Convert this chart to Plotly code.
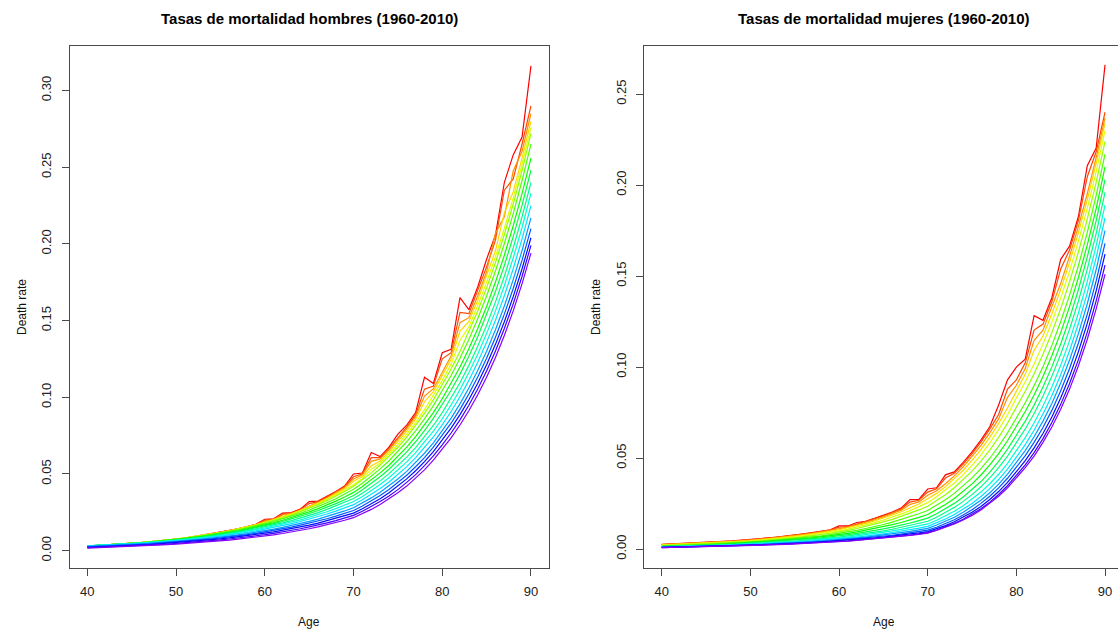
import colorsys
import plotly.graph_objects as go

# ---------------- data (death rates per 10,000) ----------------
AGES = [40, 41, 42, 43, 44, 45, 46, 47, 48, 49, 50, 51, 52, 53, 54, 55, 56, 57, 58, 59,
        60, 61, 62, 63, 64, 65, 66, 67, 68, 69, 70, 71, 72, 73, 74, 75, 76, 77, 78, 79,
        80, 81, 82, 83, 84, 85, 86, 87, 88, 89, 90]

YEARS = [1960, 1963, 1966, 1969, 1972, 1975, 1978, 1981, 1984, 1987, 1990, 1993,
         1996, 1999, 2002, 2005, 2008]

RATE_UNIT = 10000

# Males
M1960 = [30, 33, 36, 40, 43, 47, 52, 57, 62, 68, 75, 82, 92, 99, 109, 119, 131, 143, 157, 172, 205,
         208, 245, 248, 271, 320, 323, 353, 386, 421, 500, 506, 640, 613, 675, 760, 818, 900, 1130, 1090, 1290,
         1313, 1650, 1571, 1719, 1900, 2058, 2400, 2580, 2696, 3160]
M1963 = [30, 33, 36, 40, 43, 47, 52, 57, 62, 68, 75, 82, 90, 99, 108, 119, 130, 143, 156, 171, 199,
         205, 236, 245, 268, 307, 320, 349, 382, 417, 482, 501, 606, 606, 666, 733, 806, 887, 1053, 1073, 1251,
         1291, 1553, 1545, 1691, 1850, 2024, 2350, 2423, 2651, 2900]
M1966 = [30, 33, 36, 40, 43, 47, 52, 57, 62, 68, 75, 82, 90, 98, 108, 118, 129, 142, 155, 170, 193,
         203, 233, 243, 265, 289, 316, 345, 377, 412, 468, 495, 582, 598, 657, 723, 795, 874, 1008, 1056, 1160,
         1269, 1486, 1519, 1662, 1818, 2069, 2176, 2475, 2604, 2850]
M1969 = [30, 33, 36, 40, 44, 48, 52, 58, 63, 69, 76, 83, 91, 99, 109, 119, 130, 142, 155, 169, 185,
         202, 220, 240, 262, 285, 311, 339, 370, 404, 453, 484, 553, 585, 644, 708, 779, 857, 971, 1037, 1140,
         1247, 1432, 1493, 1633, 1787, 1955, 2202, 2339, 2559, 2800]
M1972 = [30, 33, 36, 40, 44, 48, 52, 58, 63, 69, 76, 83, 91, 99, 108, 118, 129, 141, 154, 168, 183,
         199, 217, 237, 258, 281, 306, 333, 363, 395, 430, 473, 530, 572, 629, 691, 760, 835, 919, 1010, 1110,
         1216, 1372, 1459, 1598, 1750, 1917, 2100, 2300, 2519, 2760]
M1975 = [30, 33, 36, 40, 43, 47, 52, 57, 62, 68, 75, 82, 89, 98, 107, 116, 127, 138, 151, 165, 180,
         196, 213, 232, 253, 275, 299, 326, 355, 386, 420, 462, 507, 558, 613, 674, 740, 814, 895, 983, 1080,
         1184, 1299, 1425, 1562, 1713, 1879, 2061, 2260, 2479, 2720]
M1978 = [30, 33, 36, 39, 43, 47, 52, 57, 62, 68, 74, 81, 88, 96, 104, 114, 124, 135, 147, 161, 175,
         190, 207, 224, 244, 265, 287, 312, 339, 368, 400, 440, 484, 533, 586, 645, 710, 781, 859, 946, 1040,
         1142, 1254, 1377, 1512, 1660, 1823, 2001, 2197, 2413, 2650]
M1981 = [30, 33, 36, 39, 43, 47, 51, 55, 60, 66, 72, 78, 85, 93, 101, 110, 120, 130, 142, 154, 168,
         182, 198, 215, 233, 253, 274, 297, 323, 350, 380, 418, 460, 507, 557, 613, 675, 743, 818, 900, 990,
         1089, 1197, 1317, 1448, 1592, 1751, 1926, 2118, 2329, 2560]
M1984 = [30, 33, 36, 39, 42, 46, 50, 54, 59, 64, 70, 76, 83, 90, 98, 107, 116, 126, 137, 149, 162,
         176, 190, 206, 223, 242, 262, 283, 307, 332, 360, 397, 437, 482, 531, 585, 644, 710, 782, 862, 950,
         1046, 1151, 1267, 1394, 1535, 1689, 1859, 2047, 2253, 2480]
M1987 = [31, 34, 36, 39, 42, 46, 50, 54, 58, 63, 68, 74, 80, 87, 95, 103, 111, 121, 131, 143, 155,
         168, 181, 196, 212, 230, 248, 269, 291, 314, 340, 375, 413, 455, 502, 553, 610, 672, 741, 816, 900,
         993, 1095, 1208, 1333, 1470, 1622, 1789, 1973, 2177, 2400]
M1990 = [32, 34, 37, 40, 43, 46, 49, 53, 57, 61, 66, 72, 78, 84, 91, 99, 107, 116, 126, 137, 148,
         160, 173, 187, 201, 218, 235, 254, 274, 296, 320, 353, 390, 431, 475, 525, 579, 639, 706, 779, 860,
         950, 1050, 1160, 1281, 1415, 1563, 1727, 1908, 2107, 2330]
M1993 = [31, 33, 36, 38, 41, 44, 47, 51, 55, 59, 63, 68, 74, 80, 87, 94, 102, 110, 119, 129, 140,
         151, 163, 176, 190, 205, 221, 239, 258, 278, 300, 332, 367, 406, 448, 496, 548, 606, 670, 741, 820,
         907, 1003, 1110, 1228, 1358, 1502, 1662, 1838, 2033, 2250]
M1996 = [28, 30, 33, 35, 38, 41, 44, 48, 52, 56, 60, 65, 70, 76, 82, 88, 95, 103, 111, 120, 130,
         140, 152, 164, 177, 191, 206, 223, 240, 259, 280, 310, 344, 381, 422, 467, 517, 573, 635, 703, 780,
         864, 957, 1060, 1174, 1300, 1440, 1595, 1767, 1957, 2170]
M1999 = [25, 27, 29, 32, 35, 37, 41, 44, 48, 52, 56, 61, 65, 71, 77, 83, 89, 97, 104, 113, 122,
         132, 142, 153, 166, 179, 193, 208, 225, 243, 262, 291, 323, 359, 399, 443, 492, 547, 607, 675, 750,
         831, 921, 1021, 1132, 1255, 1391, 1542, 1709, 1894, 2100]
M2002 = [22, 24, 26, 29, 31, 34, 37, 40, 44, 48, 52, 56, 61, 66, 71, 77, 83, 90, 97, 105, 114,
         123, 133, 143, 155, 167, 180, 195, 210, 227, 245, 273, 304, 339, 377, 420, 468, 521, 580, 646, 720,
         799, 887, 984, 1092, 1212, 1345, 1492, 1656, 1838, 2040]
M2005 = [19, 21, 23, 25, 27, 30, 33, 36, 39, 43, 47, 51, 55, 60, 65, 70, 76, 82, 89, 96, 104,
         113, 122, 132, 143, 155, 167, 181, 196, 212, 230, 257, 287, 320, 357, 398, 445, 496, 554, 618, 690,
         767, 853, 948, 1054, 1171, 1302, 1448, 1609, 1789, 1990]
M2008 = [17, 19, 21, 23, 25, 27, 30, 33, 36, 39, 43, 47, 50, 55, 59, 64, 69, 75, 81, 88, 95,
         103, 112, 121, 132, 143, 155, 168, 183, 198, 215, 241, 269, 301, 337, 377, 421, 471, 527, 590, 660,
         735, 819, 912, 1016, 1131, 1260, 1403, 1563, 1741, 1940]

# Females
F1960 = [26, 28, 30, 32, 34, 37, 39, 42, 45, 49, 52, 56, 61, 66, 71, 77, 84, 91, 98, 106, 127,
         127, 146, 153, 169, 186, 204, 225, 272, 273, 330, 337, 408, 424, 476, 534, 599, 672, 792, 930, 1000,
         1043, 1282, 1257, 1381, 1592, 1664, 1827, 2106, 2203, 2660]
F1963 = [25, 27, 29, 31, 33, 36, 38, 41, 44, 48, 51, 55, 60, 65, 70, 76, 82, 89, 96, 104, 120,
         124, 137, 151, 166, 183, 201, 221, 258, 268, 313, 331, 390, 416, 467, 524, 588, 659, 739, 879, 930,
         1023, 1203, 1236, 1359, 1539, 1643, 1806, 2046, 2183, 2400]
F1966 = [24, 26, 28, 30, 32, 34, 37, 40, 43, 46, 49, 53, 58, 63, 68, 73, 80, 86, 94, 102, 114,
         121, 133, 146, 161, 177, 195, 214, 245, 259, 296, 320, 359, 402, 452, 507, 568, 638, 715, 834, 900,
         992, 1147, 1203, 1326, 1460, 1609, 1773, 1953, 2151, 2370]
F1969 = [23, 25, 27, 29, 31, 33, 35, 38, 41, 44, 47, 51, 55, 60, 65, 71, 77, 83, 90, 98, 106,
         117, 128, 141, 155, 170, 187, 205, 225, 248, 277, 306, 343, 386, 433, 487, 547, 614, 690, 775, 870,
         960, 1092, 1171, 1292, 1427, 1575, 1739, 1920, 2119, 2340]
F1972 = [21, 23, 24, 26, 28, 30, 33, 35, 38, 41, 44, 48, 52, 56, 61, 66, 72, 78, 85, 92, 100,
         110, 121, 132, 145, 160, 175, 193, 211, 232, 255, 287, 323, 363, 409, 460, 518, 583, 656, 738, 830,
         919, 1017, 1126, 1247, 1380, 1528, 1692, 1873, 2074, 2300]
F1975 = [19, 21, 22, 24, 26, 28, 30, 33, 35, 38, 41, 45, 48, 53, 57, 62, 67, 73, 80, 87, 94,
         103, 113, 124, 136, 149, 163, 179, 196, 215, 235, 265, 299, 337, 380, 428, 483, 544, 614, 692, 780,
         867, 963, 1070, 1189, 1322, 1469, 1632, 1814, 2015, 2240]
F1978 = [17, 18, 20, 22, 24, 25, 28, 30, 32, 35, 38, 41, 45, 49, 53, 57, 62, 67, 73, 79, 86,
         94, 103, 113, 123, 135, 148, 162, 177, 194, 212, 240, 271, 306, 346, 391, 442, 499, 565, 638, 720,
         804, 898, 1002, 1119, 1250, 1395, 1558, 1740, 1943, 2170]
F1981 = [15, 16, 18, 19, 21, 23, 25, 27, 30, 32, 35, 38, 41, 45, 49, 53, 57, 62, 67, 73, 79,
         86, 94, 103, 112, 123, 134, 146, 159, 174, 190, 216, 245, 278, 316, 358, 407, 462, 524, 595, 675,
         756, 847, 948, 1062, 1189, 1332, 1492, 1671, 1871, 2100]
F1984 = [14, 15, 17, 18, 20, 21, 23, 25, 27, 30, 32, 35, 38, 41, 44, 48, 52, 57, 61, 66, 72,
         79, 86, 93, 102, 111, 121, 131, 143, 156, 170, 194, 221, 251, 286, 326, 371, 423, 482, 549, 625,
         703, 791, 890, 1001, 1127, 1268, 1426, 1605, 1805, 2030]
F1987 = [13, 14, 15, 17, 18, 20, 22, 23, 25, 28, 30, 32, 35, 38, 41, 44, 48, 52, 56, 61, 66,
         72, 78, 85, 92, 100, 109, 119, 129, 141, 153, 175, 200, 229, 262, 299, 342, 391, 447, 511, 585,
         660, 745, 841, 949, 1070, 1208, 1363, 1538, 1735, 1960]
F1990 = [12, 13, 14, 15, 17, 18, 20, 22, 24, 26, 28, 30, 33, 35, 38, 41, 45, 48, 52, 56, 61,
         66, 72, 78, 85, 92, 100, 108, 117, 127, 138, 158, 181, 208, 238, 273, 313, 359, 411, 471, 540,
         612, 694, 786, 891, 1010, 1145, 1297, 1471, 1667, 1890]
F1993 = [11, 12, 13, 14, 16, 17, 18, 20, 22, 24, 26, 28, 30, 33, 35, 38, 41, 45, 48, 52, 56,
         61, 66, 71, 77, 84, 91, 98, 107, 115, 125, 144, 165, 190, 219, 251, 289, 332, 382, 439, 505,
         574, 653, 742, 843, 958, 1090, 1239, 1408, 1601, 1820]
F1996 = [10, 11, 12, 13, 14, 16, 17, 18, 20, 22, 24, 26, 28, 30, 33, 35, 38, 41, 45, 48, 52,
         56, 61, 66, 71, 77, 83, 90, 97, 105, 114, 132, 152, 175, 202, 233, 268, 309, 357, 412, 475,
         541, 617, 703, 800, 912, 1039, 1184, 1348, 1536, 1750]
F1999 = [9, 10, 11, 12, 13, 14, 15, 17, 18, 20, 22, 24, 26, 28, 30, 32, 35, 38, 41, 44, 48,
         52, 56, 61, 65, 71, 76, 82, 89, 96, 104, 120, 139, 161, 187, 216, 251, 290, 336, 389, 450,
         513, 586, 668, 762, 870, 992, 1132, 1291, 1473, 1680]
F2002 = [9, 10, 11, 12, 13, 14, 15, 16, 18, 19, 21, 23, 25, 26, 29, 31, 33, 36, 39, 42, 45,
         49, 52, 57, 61, 66, 71, 77, 83, 89, 96, 111, 129, 150, 174, 202, 234, 272, 316, 366, 425,
         486, 556, 635, 726, 830, 949, 1085, 1241, 1419, 1620]
F2005 = [8, 9, 10, 11, 12, 13, 14, 15, 17, 18, 20, 22, 23, 25, 27, 29, 31, 34, 36, 39, 42,
         45, 49, 53, 57, 62, 66, 72, 77, 83, 90, 105, 122, 141, 164, 191, 222, 258, 300, 348, 405,
         463, 530, 607, 695, 795, 910, 1041, 1192, 1364, 1560]
F2008 = [8, 9, 10, 10, 11, 12, 13, 15, 16, 17, 19, 21, 22, 24, 26, 28, 30, 32, 35, 37, 40,
         43, 47, 51, 55, 59, 64, 70, 75, 81, 88, 102, 119, 138, 160, 185, 215, 250, 290, 336, 390,
         447, 511, 586, 671, 768, 879, 1007, 1153, 1320, 1510]

MALE_SERIES = [M1960, M1963, M1966, M1969, M1972, M1975, M1978, M1981, M1984, M1987,
               M1990, M1993, M1996, M1999, M2002, M2005, M2008]
FEMALE_SERIES = [F1960, F1963, F1966, F1969, F1972, F1975, F1978, F1981, F1984, F1987,
                 F1990, F1993, F1996, F1999, F2002, F2005, F2008]

X_TICKS = [40, 50, 60, 70, 80, 90]
MALE_Y_TICKS = [0.00, 0.05, 0.10, 0.15, 0.20, 0.25, 0.30]
FEMALE_Y_TICKS = [0.00, 0.05, 0.10, 0.15, 0.20, 0.25]

for s in MALE_SERIES + FEMALE_SERIES:
    assert len(s) == len(AGES), len(s)


# ---------------- styling ----------------
def rainbow(year):
    # R-style rainbow(n*1.25)[1:n] over 51 years (1960-2010)
    h = (year - 1960) / (51 * 1.25)
    r, g, b = colorsys.hsv_to_rgb(h, 1.0, 1.0)
    return f"rgb({round(r * 255)},{round(g * 255)},{round(b * 255)})"


W, H = 1118, 632
FONT = "Liberation Sans, Arial, Helvetica, sans-serif"
AX_COL = "#4a4a4a"

fig = go.Figure()
for yr, vals in zip(YEARS, MALE_SERIES):
    fig.add_trace(go.Scatter(x=AGES, y=[v / RATE_UNIT for v in vals], mode="lines",
                             line=dict(color=rainbow(yr), width=1.2),
                             xaxis="x", yaxis="y", showlegend=False, hoverinfo="skip"))
for yr, vals in zip(YEARS, FEMALE_SERIES):
    fig.add_trace(go.Scatter(x=AGES, y=[v / RATE_UNIT for v in vals], mode="lines",
                             line=dict(color=rainbow(yr), width=1.2),
                             xaxis="x2", yaxis="y2", showlegend=False, hoverinfo="skip"))

common = dict(showline=True, linecolor=AX_COL, linewidth=1, ticks="outside", ticklen=7,
              tickcolor=AX_COL, tickwidth=1, showgrid=False, zeroline=False,
              tickfont=dict(family=FONT, size=13, color="#222222"))

ydom = [1 - 568 / H, 1 - 46 / H]
L0, L1 = 69.6, 548.7
R0 = 644.0
px_per_age_r = 8.866

fig.update_layout(
    width=W, height=H,
    margin=dict(l=0, r=0, t=0, b=0),
    paper_bgcolor="white", plot_bgcolor="white",
    xaxis=dict(domain=[L0 / W, L1 / W], range=[38, 92], tickvals=X_TICKS,
               mirror=True, anchor="y", ticklabelstandoff=4, **common),
    yaxis=dict(domain=ydom, range=[-0.0113, 0.329], tickvals=MALE_Y_TICKS,
               ticktext=[f"{t:.2f}" for t in MALE_Y_TICKS], tickangle=-90,
               mirror=True, anchor="x", ticklabelstandoff=5, **common),
    xaxis2=dict(domain=[R0 / W, 1.0], range=[38, 38 + (W - R0) / px_per_age_r], tickvals=X_TICKS,
                mirror=True, anchor="y2", ticklabelstandoff=4, **common),
    yaxis2=dict(domain=ydom, range=[-0.0104, 0.2764], tickvals=FEMALE_Y_TICKS,
                ticktext=[f"{t:.2f}" for t in FEMALE_Y_TICKS], tickangle=-90,
                mirror=False, anchor="x2", ticklabelstandoff=5, **common),
)

ann = []
for cx, title in [((L0 + L1) / 2, "Tasas de mortalidad hombres (1960-2010)"),
                  ((R0 + 1123) / 2, "Tasas de mortalidad mujeres (1960-2010)")]:
    ann.append(dict(text=f"<b>{title}</b>", x=cx / W, y=1 - 18.5 / H, xref="paper", yref="paper",
                    xanchor="center", yanchor="middle", showarrow=False,
                    font=dict(family=FONT, size=15, color="black")))
    ann.append(dict(text="Age", x=cx / W, y=1 - 622 / H, xref="paper", yref="paper",
                    xanchor="center", yanchor="middle", showarrow=False,
                    font=dict(family=FONT, size=12, color="#111111")))
for lx in [22.0, 596.0]:
    ann.append(dict(text="Death rate", x=lx / W, y=1 - 307 / H, xref="paper", yref="paper",
                    xanchor="center", yanchor="middle", showarrow=False, textangle=-90,
                    font=dict(family=FONT, size=12, color="#111111")))
fig.update_layout(annotations=ann)

fig.write_html("out.html")
